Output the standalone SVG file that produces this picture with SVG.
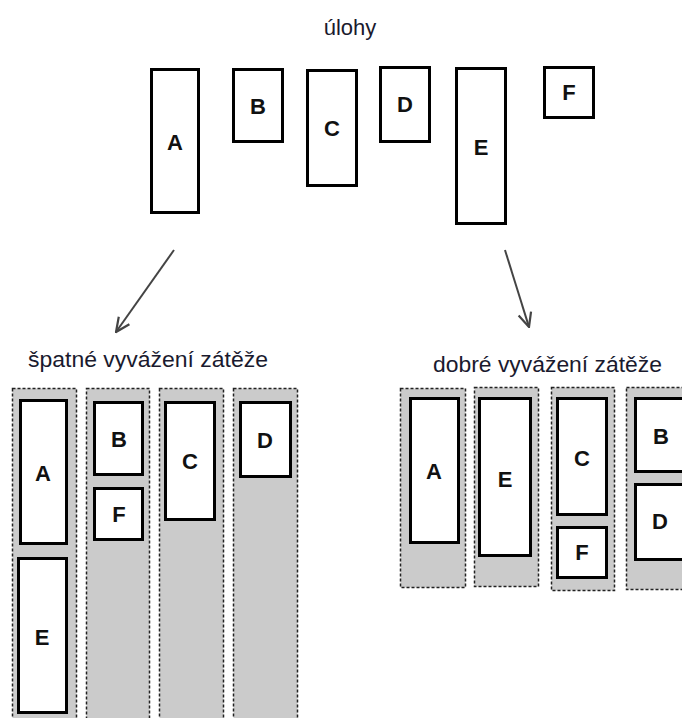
<svg xmlns="http://www.w3.org/2000/svg" width="682" height="718" viewBox="0 0 682 718">
<style>
.title{font-family:"Liberation Sans",Arial,sans-serif;font-size:22px;fill:#1a1a2e}
.box{fill:#fff;stroke:#000;stroke-width:3}
.col{fill:#cbcbcb;stroke:#222;stroke-width:1.5;stroke-dasharray:3 2}
.lbl{font-family:"Liberation Sans",Arial,sans-serif;font-size:22px;font-weight:bold;fill:#111;text-anchor:middle;dominant-baseline:central}
.conn{fill:none;stroke:#444;stroke-width:2}
</style>
<defs>
<marker id="arr" viewBox="0 0 16 16" refX="15" refY="8" markerWidth="16" markerHeight="16" markerUnits="userSpaceOnUse" orient="auto">
<path d="M1,1.5 L15,8 L1,14.5" fill="none" stroke="#444" stroke-width="2.2"/>
</marker>
</defs>
<rect width="682" height="718" fill="#fff"/>
<text class="title" x="350" y="35" text-anchor="middle" font-size="23">úlohy</text>
<g id="tasks">
<g id="task-A"><rect class="box" x="151.5" y="69.5" width="47" height="143"/><text class="lbl" x="175" y="142">A</text></g>
<g id="task-B"><rect class="box" x="233.5" y="69.5" width="49" height="72"/><text class="lbl" x="258" y="106">B</text></g>
<g id="task-C"><rect class="box" x="307.5" y="70.5" width="49" height="115"/><text class="lbl" x="332" y="128">C</text></g>
<g id="task-D"><rect class="box" x="380.5" y="67.5" width="49" height="74"/><text class="lbl" x="405" y="104">D</text></g>
<g id="task-E"><rect class="box" x="456.5" y="68.5" width="49" height="155"/><text class="lbl" x="481" y="147">E</text></g>
<g id="task-F"><rect class="box" x="544.5" y="67.5" width="49" height="50"/><text class="lbl" x="569" y="92">F</text></g>
</g>
<g id="connectors">
<line class="conn" x1="174" y1="250" x2="116" y2="332" marker-end="url(#arr)"/>
<line class="conn" x1="505" y1="250" x2="529" y2="327" marker-end="url(#arr)"/>
</g>
<text class="title" x="28" y="367" textLength="240" lengthAdjust="spacingAndGlyphs">špatné vyvážení zátěže</text>
<text class="title" x="433" y="372" textLength="229" lengthAdjust="spacingAndGlyphs">dobré vyvážení zátěže</text>
<g id="bad">
<g id="bad-col1"><rect class="col" x="12.5" y="388.5" width="64" height="340"/>
<rect class="box" x="20.5" y="400.5" width="46" height="143"/><text class="lbl" x="43" y="473">A</text>
<rect class="box" x="18.5" y="558.5" width="48" height="154"/><text class="lbl" x="42" y="637">E</text></g>
<g id="bad-col2"><rect class="col" x="86.5" y="388.5" width="63" height="340"/>
<rect class="box" x="94.5" y="402.5" width="48" height="72"/><text class="lbl" x="119" y="439">B</text>
<rect class="box" x="94.5" y="488.5" width="48" height="51"/><text class="lbl" x="119" y="514">F</text></g>
<g id="bad-col3"><rect class="col" x="159.5" y="388.5" width="64" height="340"/>
<rect class="box" x="165.5" y="402.5" width="49" height="117"/><text class="lbl" x="190" y="461">C</text></g>
<g id="bad-col4"><rect class="col" x="233.5" y="388.5" width="64" height="340"/>
<rect class="box" x="240.5" y="402.5" width="50" height="74"/><text class="lbl" x="265" y="440">D</text></g>
</g>
<g id="good">
<g id="good-col1"><rect class="col" x="400.5" y="388.5" width="65" height="199"/>
<rect class="box" x="410.5" y="398.5" width="48" height="144"/><text class="lbl" x="434" y="471">A</text></g>
<g id="good-col2"><rect class="col" x="474.5" y="387.5" width="64" height="199"/>
<rect class="box" x="479.5" y="398.5" width="51" height="157"/><text class="lbl" x="505" y="479">E</text></g>
<g id="good-col3"><rect class="col" x="551.5" y="387.5" width="63" height="203"/>
<rect class="box" x="557.5" y="398.5" width="49" height="116"/><text class="lbl" x="582" y="458">C</text>
<rect class="box" x="557.5" y="527.5" width="49" height="50"/><text class="lbl" x="582" y="552">F</text></g>
<g id="good-col4"><rect class="col" x="626.5" y="387.5" width="70" height="202"/>
<rect class="box" x="635.5" y="398.5" width="54" height="73"/><text class="lbl" x="661" y="436">B</text>
<rect class="box" x="635.5" y="484.5" width="54" height="75"/><text class="lbl" x="660" y="521">D</text></g>
</g>
</svg>
